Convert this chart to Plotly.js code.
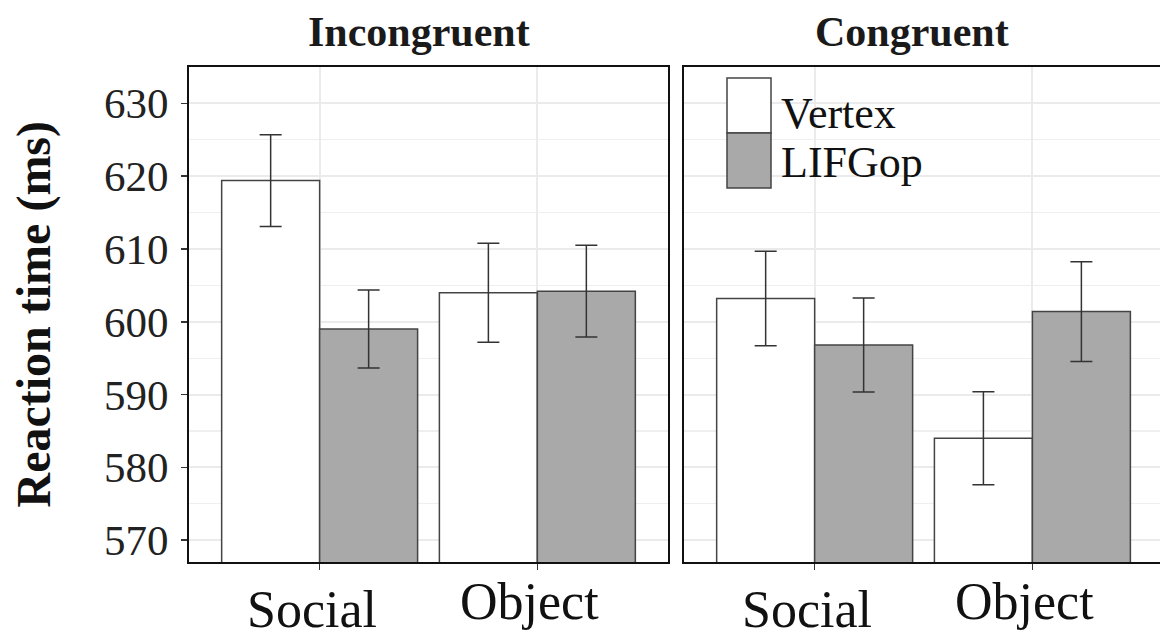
<!DOCTYPE html>
<html>
<head>
<meta charset="utf-8">
<script src="https://cdn.plot.ly/plotly-3.0.1.min.js"></script>
<style>
  body { margin: 0; background: #fff; }
  #graph { width: 1160px; height: 644px; }
</style>
</head>
<body>
<div id="graph"></div>
<script>
var categories = ['Social', 'Object'];
var panels = ['Incongruent', 'Congruent'];
var groups = ['Vertex', 'LIFGop'];

// mean reaction times and error (ms)
var incongVertex = [619.4, 604.0];
var incongVertexErr = [6.3, 6.8];
var incongLIFGop = [599.0, 604.2];
var incongLIFGopErr = [5.35, 6.3];

var congVertex = [603.2, 584.0];
var congVertexErr = [6.5, 6.4];
var congLIFGop = [596.8, 601.4];
var congLIFGopErr = [6.45, 6.85];

var font = '"Liberation Serif", "Times New Roman", serif';
var fills = {Vertex: '#ffffff', LIFGop: '#a9a9a9'};

// plot area in pixels, used only for legend / label placement
var L = 189, R = 1160, T = 67, B = 562;
function px2x(px) { return (px - L) / (R - L); }
function px2y(py) { return (B - py) / (B - T); }

function barTrace(name, values, errs, xa, ya) {
    return {
        type: 'bar',
        name: name,
        x: categories,
        y: values,
        xaxis: xa,
        yaxis: ya,
        showlegend: false,
        marker: {color: fills[name], line: {color: '#444', width: 1.5}},
        error_y: {type: 'data', array: errs, color: '#333', thickness: 1.5, width: 11}
    };
}

var data = [
    barTrace('Vertex', incongVertex, incongVertexErr, 'x', 'y'),
    barTrace('LIFGop', incongLIFGop, incongLIFGopErr, 'x', 'y'),
    barTrace('Vertex', congVertex, congVertexErr, 'x2', 'y2'),
    barTrace('LIFGop', congLIFGop, congLIFGopErr, 'x2', 'y2')
];

var yBase = {
    range: [567, 635],
    dtick: 10,
    tick0: 570,
    ticks: 'outside',
    ticklen: 6,
    tickwidth: 1.5,
    tickcolor: '#333',
    showline: true,
    linecolor: '#111',
    linewidth: 2,
    gridcolor: '#ebebeb',
    gridwidth: 2,
    zeroline: false,
    minor: {dtick: 5, tick0: 565, showgrid: true, gridcolor: '#efefef', gridwidth: 1.2, ticks: ''},
    tickfont: {family: font, size: 43, color: '#222'},
    fixedrange: true
};

var xBase = {
    type: 'category',
    showline: true,
    mirror: true,
    linecolor: '#111',
    linewidth: 2,
    ticks: 'outside',
    ticklen: 6,
    tickwidth: 1.5,
    tickcolor: '#333',
    showticklabels: false,
    gridcolor: '#ebebeb',
    gridwidth: 2,
    fixedrange: true
};

var layout = {
    width: 1160,
    height: 644,
    margin: {l: L, r: 1160 - R, t: T, b: 644 - B},
    paper_bgcolor: '#fff',
    plot_bgcolor: '#fff',
    barmode: 'group',
    bargap: 0.1,
    bargroupgap: 0,
    xaxis: Object.assign({}, xBase, {domain: [0, px2x(668)], range: [-0.6, 1.6], anchor: 'y'}),
    xaxis2: Object.assign({}, xBase, {domain: [px2x(684), 1], range: [-0.6, 1.586], anchor: 'y2'}),
    yaxis: Object.assign({}, yBase, {mirror: true, anchor: 'x', ticklabelstandoff: 4}),
    yaxis2: Object.assign({}, yBase, {anchor: 'x2', showticklabels: false, ticks: '', mirror: false}),
    shapes: [],
    annotations: []
};

// facet strip titles
var stripAxes = ['x', 'x2'];
for (var p = 0; p < panels.length; p++) {
    layout.annotations.push({
        text: '<b>' + panels[p] + '</b>',
        xref: stripAxes[p] + ' domain', x: 0.5,
        yref: 'paper', y: 1, yanchor: 'bottom', yshift: 10, xshift: -10,
        showarrow: false,
        font: {family: font, size: 42, color: '#1a1a1a'}
    });
}

// category labels (Object sits a little higher than Social)
var labelShift = {Social: -17, Object: -9};
for (var p = 0; p < panels.length; p++) {
    for (var c = 0; c < categories.length; c++) {
        layout.annotations.push({
            text: categories[c],
            xref: stripAxes[p], x: categories[c], xshift: -8,
            yref: 'paper', y: 0, yanchor: 'top', yshift: labelShift[categories[c]],
            showarrow: false,
            font: {family: font, size: 52, color: '#111'}
        });
    }
}

// y axis title
layout.annotations.push({
    text: '<b>Reaction time (ms)</b>',
    textangle: -90,
    xref: 'paper', x: px2x(33), xanchor: 'center',
    yref: 'paper', y: 0.5, yanchor: 'middle',
    showarrow: false,
    font: {family: font, size: 48, color: '#111'}
});

// legend inside the Congruent panel
var keyTops = [78, 133];
var keyLabelY = [113, 162];
for (var g = 0; g < groups.length; g++) {
    layout.shapes.push({
        type: 'rect',
        xref: 'paper', yref: 'paper',
        x0: px2x(727), x1: px2x(771),
        y0: px2y(keyTops[g]), y1: px2y(keyTops[g] + 55),
        fillcolor: fills[groups[g]],
        line: {color: '#444', width: 1.5}
    });
    layout.annotations.push({
        text: groups[g],
        xref: 'paper', x: px2x(779), xanchor: 'left',
        yref: 'paper', y: px2y(keyLabelY[g]), yanchor: 'middle',
        showarrow: false,
        font: {family: font, size: 44, color: '#111'}
    });
}

Plotly.newPlot('graph', data, layout, {displayModeBar: false, staticPlot: true});
</script>
</body>
</html>
